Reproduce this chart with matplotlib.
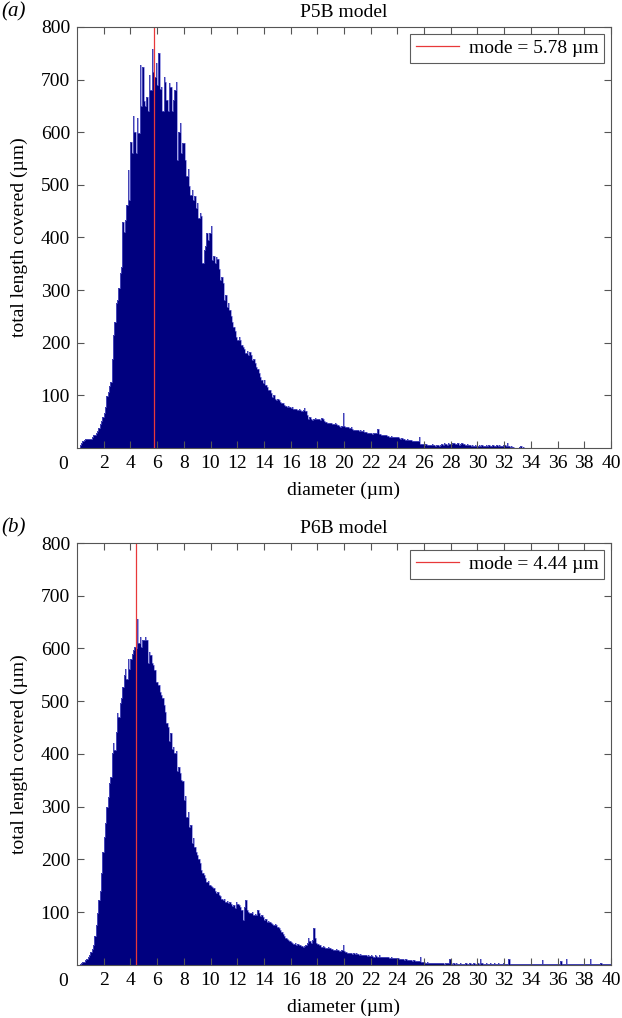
import matplotlib
matplotlib.use("Agg")
import matplotlib.pyplot as plt
import numpy as np

plt.rcParams["font.family"] = ["Liberation Serif", "DejaVu Serif"]
plt.rcParams["font.size"] = 14

BIN_WIDTH = 0.1  # um

# total length covered per 0.1 um diameter bin, starting at 0 um
p5b_lengths = [
    0, 0, 5, 10, 14, 16, 17, 18, 18, 17,
    17, 20, 24, 25, 28, 33, 38, 45, 52, 58,
    66, 78, 98, 106, 118, 126, 170, 215, 240, 275,
    281, 304, 332, 344, 430, 410, 433, 462, 528, 471,
    582, 560, 630, 600, 560, 627, 598, 728, 650, 724,
    660, 649, 667, 640, 709, 680, 759, 715, 705, 731,
    690, 750, 683, 686, 640, 705, 696, 661, 640, 693,
    686, 640, 661, 680, 696, 547, 600, 617, 560, 579,
    579, 547, 516, 530, 497, 480, 490, 471, 478, 456,
    465, 437, 446, 440, 351, 376, 383, 408, 395, 408,
    421, 357, 365, 351, 362, 360, 340, 319, 325, 313,
    281, 290, 268, 275, 262, 250, 240, 230, 222, 211,
    205, 210, 205, 195, 192, 188, 180, 185, 176, 183,
    177, 167, 170, 161, 154, 150, 142, 135, 130, 123,
    129, 120, 115, 110, 110, 105, 97, 100, 94, 92,
    94, 91, 88, 85, 86, 82, 80, 78, 80, 78,
    76, 78, 75, 74, 75, 72, 74, 72, 70, 72,
    76, 70, 62, 56, 58, 56, 54, 56, 57, 56,
    56, 55, 54, 57, 56, 52, 50, 48, 47, 47,
    47, 46, 45, 47, 46, 44, 42, 40, 42, 66,
    42, 40, 40, 39, 38, 40, 37, 35, 34, 34,
    34, 33, 34, 32, 34, 31, 30, 29, 28, 28,
    28, 27, 28, 29, 28, 37, 27, 26, 25, 25,
    25, 24, 22, 23, 21, 22, 21, 20, 21, 21,
    20, 19, 18, 19, 18, 17, 16, 17, 15, 15,
    15, 14, 14, 13, 14, 13, 21, 8, 7, 7,
    6, 7, 5, 6, 5, 6, 7, 5, 4, 6,
    5, 4, 6, 8, 5, 9, 8, 6, 9, 8,
    8, 9, 10, 7, 8, 9, 6, 8, 10, 7,
    8, 6, 7, 5, 6, 4, 5, 4, 5, 4,
    3, 5, 4, 6, 4, 3, 5, 4, 5, 3,
    4, 5, 3, 4, 6, 4, 5, 3, 4, 5,
    6, 4, 10, 3, 2, 3, 2, 0, 0, 0,
    0, 2, 3, 0, 2, 0, 0, 0, 0, 0,
]

p6b_lengths = [
    0, 0, 2, 3, 5, 6, 9, 12, 15, 19,
    24, 30, 38, 55, 75, 98, 123, 140, 174, 215,
    243, 270, 300, 319, 345, 357, 401, 420, 408, 442,
    477, 470, 496, 506, 527, 550, 562, 543, 581, 562,
    581, 590, 597, 603, 600, 655, 610, 622, 603, 616,
    616, 622, 616, 572, 594, 588, 572, 569, 560, 537,
    537, 531, 518, 512, 506, 493, 480, 458, 452, 425,
    440, 410, 414, 401, 405, 367, 375, 363, 350, 348,
    313, 320, 281, 290, 262, 265, 231, 240, 224, 215,
    209, 200, 193, 180, 174, 170, 165, 158, 160, 152,
    150, 148, 145, 140, 136, 138, 132, 130, 126, 123,
    125, 120, 122, 117, 119, 115, 111, 114, 108, 120,
    116, 114, 110, 104, 85, 110, 123, 105, 101, 98,
    98, 100, 95, 97, 95, 104, 98, 92, 94, 90,
    85, 88, 82, 84, 82, 80, 78, 76, 78, 76,
    72, 70, 66, 62, 58, 55, 52, 50, 48, 46,
    44, 42, 40, 41, 38, 40, 37, 38, 36, 35,
    36, 38, 42, 51, 46, 42, 48, 70, 52, 41,
    40, 38, 37, 35, 36, 34, 33, 32, 34, 32,
    30, 31, 29, 28, 30, 28, 27, 26, 28, 38,
    26, 24, 23, 22, 23, 22, 21, 22, 21, 22,
    20, 19, 20, 19, 18, 19, 18, 17, 18, 17,
    18, 17, 16, 19, 17, 16, 18, 16, 15, 16,
    16, 15, 16, 15, 14, 15, 14, 13, 14, 13,
    13, 12, 12, 11, 11, 10, 11, 10, 9, 9,
    9, 8, 9, 8, 7, 8, 7, 15, 6, 6,
    5, 4, 5, 4, 3, 4, 4, 3, 4, 3,
    4, 3, 3, 4, 3, 2, 3, 4, 3, 11,
    3, 2, 3, 2, 3, 2, 2, 3, 2, 2,
    2, 3, 2, 2, 3, 2, 2, 3, 2, 2,
    3, 2, 11, 3, 2, 2, 3, 2, 2, 3,
    2, 2, 3, 2, 2, 3, 2, 2, 2, 3,
    2, 2, 2, 11, 2, 2, 1, 2, 1, 2,
    1, 2, 2, 1, 2, 1, 2, 1, 2, 1,
    2, 1, 2, 1, 2, 1, 2, 1, 10, 2,
    1, 2, 1, 2, 1, 2, 1, 1, 2, 1,
    2, 1, 8, 1, 2, 1, 11, 1, 2, 1,
    1, 2, 1, 1, 2, 1, 1, 2, 1, 1,
    2, 1, 1, 2, 11, 1, 2, 1, 1, 2,
    1, 2, 4, 1, 2, 1, 1, 2, 1, 1,
]

panel_tags = ["(a)", "(b)"]
panel_titles = ["P5B model", "P6B model"]
modes = [5.78, 4.44]
x_ticks = list(range(2, 41, 2))
y_ticks = list(range(100, 801, 100))

FILL = "#00007f"
EDGE = "#6c6cd6"
SPINE = "#555555"


def draw_panel(ax, lengths, tag, title, mode):
    edges = np.arange(len(lengths) + 1) * BIN_WIDTH
    ax.stairs(lengths, edges, fill=True, color=FILL, linewidth=0)
    ax.stairs(lengths, edges, color=EDGE, linewidth=0.45)
    ax.axvline(mode, color="#e8383a", linewidth=0.9,
               label=f"mode = {mode:.2f} µm")

    ax.set_xlim(0, 40)
    ax.set_ylim(0, 800)
    ax.set_xticks(x_ticks)
    ax.set_yticks(y_ticks)
    ax.tick_params(direction="in", length=5, width=0.8, color=SPINE,
                   top=True, right=True, labelsize=14, pad=5)
    for spine in ax.spines.values():
        spine.set_color(SPINE)
        spine.set_linewidth(0.8)

    ax.set_title(title, fontsize=14, pad=7)
    ax.set_xlabel("diameter (µm)", fontsize=14, labelpad=7)
    ax.set_ylabel("total length covered (µm)", fontsize=14, labelpad=9)
    ax.text(-0.026, -0.018, "0", transform=ax.transAxes,
            ha="center", va="top", fontsize=14)
    ax.text(-0.142, 1.012, tag, transform=ax.transAxes, ha="left",
            va="bottom", fontsize=15, fontstyle="italic")

    leg = ax.legend(loc="upper right", fontsize=14, frameon=True,
                    fancybox=False, handlelength=2.2, handletextpad=0.5,
                    borderpad=0.3, borderaxespad=0.35)
    leg.get_frame().set_edgecolor("#333333")
    leg.get_frame().set_linewidth(0.8)


fig = plt.figure(figsize=(6.22, 10.18), dpi=100)
ax_a = fig.add_axes([0.1238, 0.5599, 0.8585, 0.4136])
ax_b = fig.add_axes([0.1238, 0.0521, 0.8585, 0.4145])

draw_panel(ax_a, p5b_lengths, panel_tags[0], panel_titles[0], modes[0])
draw_panel(ax_b, p6b_lengths, panel_tags[1], panel_titles[1], modes[1])

fig.savefig("out.png", dpi=100)
